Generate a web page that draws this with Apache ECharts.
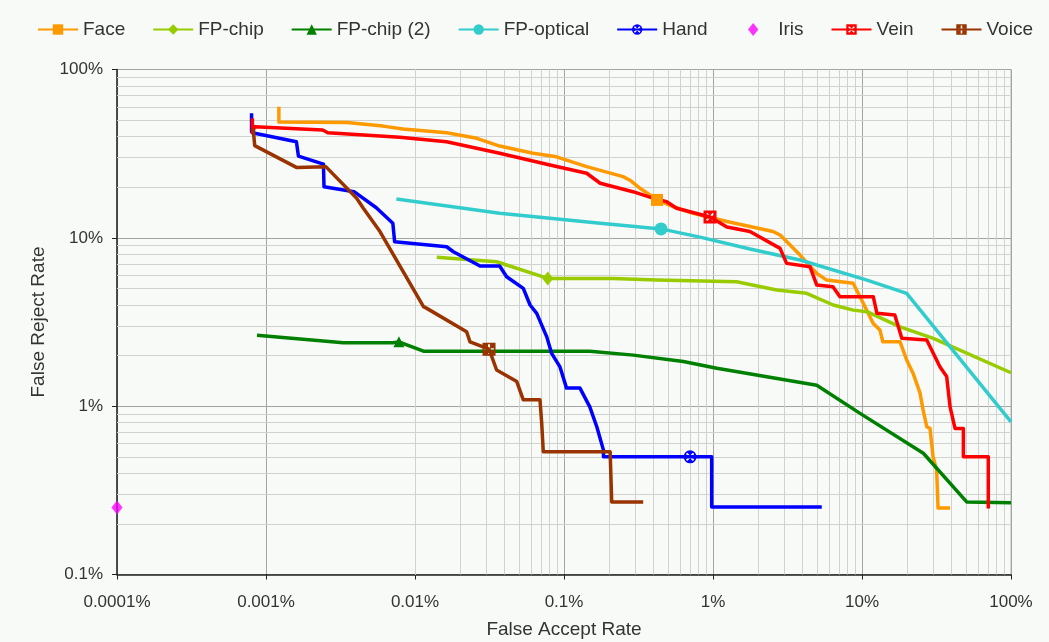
<!DOCTYPE html>
<html><head><meta charset="utf-8">
<script src="https://cdn.jsdelivr.net/npm/echarts@6/dist/echarts.min.js"></script>
<style>html,body{margin:0;padding:0;background:#f7faf7}#c{width:1049px;height:642px}</style>
</head><body><div id="c"></div>
<script>
// ---- data (values in percent) ----
const seriesNames = ['Face','FP-chip','FP-chip (2)','FP-optical','Hand','Iris','Vein','Voice'];

const faceX = [0.00122,0.00122,0.0035,0.0061,0.0083,0.0163,0.026,0.037,0.062,0.089,0.142,0.249,0.277,0.324,0.421,0.540,0.735,1.24,2.53,2.82,3.84,4.97,5.80,8.71,9.70,11.9,13.2,13.8,18.0,19.95,22.0,24.5,25.7,27.2,28.6,30.0,31.7,32.4,39.0];
const faceY = [60.1,48.8,48.5,46.1,44.3,42.1,39.0,35.1,31.8,30.3,26.5,23.1,22.0,19.7,16.8,15.3,14.0,12.5,10.9,10.4,7.9,6.15,5.61,5.37,4.47,3.10,2.83,2.41,2.41,1.88,1.57,1.20,0.95,0.755,0.738,0.50,0.417,0.248,0.248];
const faceMarker = 14;

const chipX = [0.0140,0.0353,0.0778,0.214,0.419,1.44,2.68,4.25,6.41,8.75,10.8,18.0,30.1,100];
const chipY = [7.66,7.21,5.74,5.74,5.61,5.48,4.90,4.68,3.99,3.72,3.64,2.96,2.53,1.58];
const chipMarker = 2;

const chip2X = [0.00087,0.0033,0.0071,0.0078,0.0088,0.0114,0.149,0.292,0.632,1.06,1.96,4.97,9.70,25.8,50.4,100];
const chip2Y = [2.64,2.38,2.38,2.41,2.31,2.12,2.12,2.01,1.84,1.68,1.53,1.33,0.906,0.525,0.270,0.267];
const chip2Marker = 3;

const opticalX = [0.0075,0.037,0.175,0.448,0.818,1.77,3.84,10.8,19.95,100];
const opticalY = [17.0,14.0,12.2,11.3,10.1,8.58,7.38,5.61,4.68,0.807];
const opticalMarker = 3;

const handX = [0.0008,0.0008,0.00084,0.0016,0.00165,0.00243,0.00245,0.0039,0.0055,0.0071,0.0073,0.0163,0.0181,0.0273,0.037,0.0412,0.0533,0.0592,0.0656,0.0766,0.0826,0.094,0.104,0.128,0.149,0.166,0.184,0.184,0.702,0.98,0.98,5.37];
const handY = [54.9,42.7,41.8,37.2,30.6,27.4,20.1,18.8,15.1,12.2,9.48,8.85,8.27,6.80,6.80,5.87,5.01,3.99,3.56,2.58,2.06,1.71,1.28,1.28,0.99,0.755,0.548,0.50,0.50,0.50,0.252,0.252];
const handMarker = 28;

const irisX = [0.0001];
const irisY = [0.25];

const veinX = [0.00081,0.00081,0.00084,0.0024,0.0026,0.0079,0.0163,0.037,0.0805,0.142,0.175,0.290,0.395,0.489,0.570,0.955,1.24,1.77,2.82,3.12,4.48,4.97,6.38,7.11,11.9,12.6,16.6,18.5,27.2,33.4,37.0,39.0,42.1,47.9,47.9,70.4,70.4];
const veinY = [51.3,42.0,45.7,43.7,42.1,39.6,37.2,31.8,27.1,24.2,21.1,18.8,17.2,16.4,15.0,13.3,11.6,10.9,8.66,7.05,6.73,5.24,5.12,4.47,4.47,3.56,3.48,2.53,2.47,1.71,1.50,0.99,0.738,0.738,0.50,0.50,0.247];
const veinMarker = 15;

const voiceX = [0.00082,0.00084,0.0016,0.00253,0.00406,0.0045,0.00582,0.0114,0.012,0.0222,0.0234,0.0314,0.0353,0.0482,0.0533,0.069,0.0708,0.0726,0.204,0.209,0.340];
const voiceY = [44.7,35.3,26.2,26.4,17.2,15.0,10.9,3.90,3.81,2.77,2.41,2.18,1.64,1.40,1.09,1.09,0.80,0.536,0.536,0.270,0.270];
const voiceMarker = 11;

// axis ticks
const xTicks = [0.0001,0.001,0.01,0.1,1,10,100];
const yTicks = [0.1,1,10,100];
const minorSteps = [2,3,4,5,6,7,8,9];

// ---- marker shapes ----
const xHole = 'M2.55,-3.82 L0,-1.27 L-2.55,-3.82 L-3.82,-2.55 L-1.27,0 L-3.82,2.55 L-2.55,3.82 L0,1.27 L2.55,3.82 L3.82,2.55 L1.27,0 L3.82,-2.55 Z';
const plusHole = 'M-0.9,-4.5 L-0.9,-0.9 L-4.5,-0.9 L-4.5,0.9 L-0.9,0.9 L-0.9,4.5 L0.9,4.5 L0.9,0.9 L4.5,0.9 L4.5,-0.9 L0.9,-0.9 L0.9,-4.5 Z';
const sq = 'M-6,-6 L6,-6 L6,6 L-6,6 Z ';
const circ = 'M0,-6 A6,6 0 1,1 0,6 A6,6 0 1,1 0,-6 Z ';
const symHand = 'path://' + circ + xHole;
const symVein = 'path://' + sq + xHole;
const symVoice = 'path://' + sq + plusHole;
const irisLegendIcon = 'path://M-20,-7 L-20,-7 M20,7 L20,7 M0,-7 L5.5,0 L0,7 L-5.5,0 Z';

function lineSeries(name, color, xs, ys, mi, sym, size) {
  return {
    name: name, type: 'line', z: 3,
    symbol: sym, symbolSize: size, showSymbol: true, symbolKeepAspect: true,
    data: xs.map((x, i) => i === mi ? { value: [x, ys[i]] } : { value: [x, ys[i]], symbol: 'none' }),
    lineStyle: { color: color, width: 3.5, join: 'round' },
    itemStyle: { color: color },
    emphasis: { disabled: true },
    animation: false
  };
}

const minorX = [], minorY = [];
xTicks.slice(0, -1).forEach(d => minorSteps.forEach(k => minorX.push({ xAxis: d * k })));
yTicks.slice(0, -1).forEach(d => minorSteps.forEach(k => minorY.push({ yAxis: d * k })));

const fmt = v => parseFloat(Number(v).toPrecision(3)) + '%';
const txt = '#333333';

const chart = echarts.init(document.getElementById('c'), null, { renderer: 'canvas' });
chart.setOption({
  backgroundColor: '#f7faf7',
  animation: false,
  textStyle: { fontFamily: 'Liberation Sans, Arial, sans-serif' },
  legend: {
    data: seriesNames.map(n => n === 'Iris' ? { name: n, icon: irisLegendIcon } : { name: n }),
    left: 32, top: 15, width: 1015, padding: 5,
    itemWidth: 40, itemHeight: 13, itemGap: 27,
    textStyle: { fontSize: 19, color: txt, fontFamily: 'Liberation Sans, Arial, sans-serif' },
    selectedMode: false
  },
  grid: {
    left: 117, right: 38, top: 69.5, bottom: 67.5,
    show: true, borderColor: '#b4b4b4', borderWidth: 1, backgroundColor: '#f7faf7',
    containLabel: false, outerBoundsMode: 'none'
  },
  xAxis: {
    type: 'log', logBase: 10, min: 0.0001, max: 100,
    name: 'False Accept Rate', nameLocation: 'middle', nameGap: 46,
    nameTextStyle: { fontSize: 19, color: txt },
    axisLine: { show: true, lineStyle: { color: '#222', width: 1.5 } },
    axisTick: { show: true, length: 5, lineStyle: { color: '#222' } },
    axisLabel: { fontSize: 17, color: txt, margin: 19, formatter: fmt },
    splitLine: { show: true, lineStyle: { color: '#a4a4a4', width: 1 } }
  },
  yAxis: {
    type: 'log', logBase: 10, min: 0.1, max: 100,
    name: 'False Reject Rate', nameLocation: 'middle', nameGap: 60,
    nameTextStyle: { fontSize: 19, color: txt },
    axisLine: { show: true, lineStyle: { color: '#222', width: 1.5 } },
    axisTick: { show: true, length: 5, lineStyle: { color: '#222' } },
    axisLabel: { fontSize: 17, color: txt, margin: 14, formatter: fmt },
    splitLine: { show: true, lineStyle: { color: '#a4a4a4', width: 1 } }
  },
  series: [
    {
      name: 'grid', type: 'line', data: [], silent: true, z: 1,
      markLine: {
        z: 1, silent: true, symbol: ['none', 'none'], label: { show: false },
        lineStyle: { color: '#d0d2d0', width: 1, type: 'solid' },
        emphasis: { disabled: true }, animation: false,
        data: minorX.concat(minorY)
      }
    },
    lineSeries('Face', '#ff9900', faceX, faceY, faceMarker, 'rect', 12),
    lineSeries('FP-chip', '#99cc00', chipX, chipY, chipMarker, 'diamond', [11, 14]),
    lineSeries('FP-chip (2)', '#008000', chip2X, chip2Y, chip2Marker, 'triangle', 11),
    lineSeries('FP-optical', '#33cccc', opticalX, opticalY, opticalMarker, 'circle', 13),
    lineSeries('Hand', '#0000ff', handX, handY, handMarker, symHand, 13),
    {
      name: 'Iris', type: 'scatter', z: 3, symbol: 'diamond', symbolSize: [11, 14], symbolKeepAspect: true,
      data: irisX.map((x, i) => [x, irisY[i]]),
      itemStyle: { color: '#ff00ff' }, emphasis: { disabled: true }, animation: false
    },
    lineSeries('Vein', '#ff0000', veinX, veinY, veinMarker, symVein, 13),
    lineSeries('Voice', '#993300', voiceX, voiceY, voiceMarker, symVoice, 13)
  ]
});
</script></body></html>
